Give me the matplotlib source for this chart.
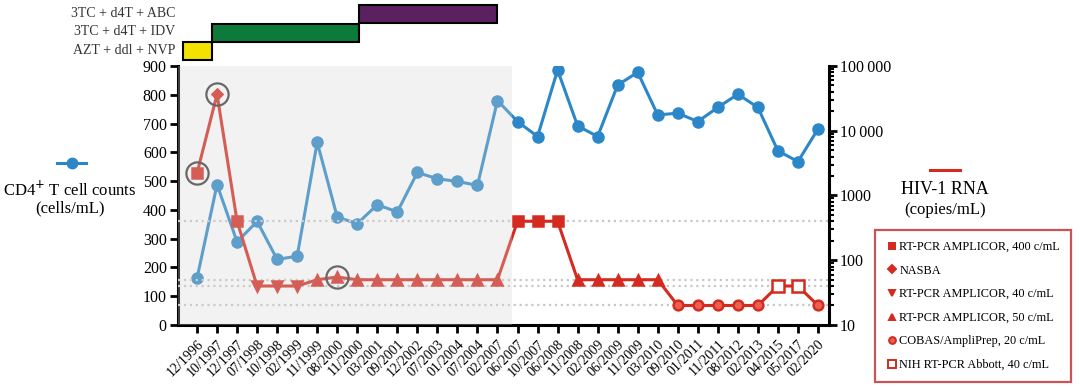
import numpy as np
import matplotlib.pyplot as plt
from matplotlib.patches import Rectangle
from matplotlib.lines import Line2D
from matplotlib.ticker import FixedLocator, FuncFormatter

plt.rcParams['font.family'] = ['Liberation Serif', 'DejaVu Serif']

# Dados
datas = ["12/1996", "10/1997", "12/1997", "07/1998", "10/1998", "02/1999", "11/1999",
         "08/2000", "11/2000", "03/2001", "09/2001", "12/2002", "07/2003", "01/2004",
         "07/2004", "02/2007", "06/2007", "10/2007", "06/2008", "11/2008", "02/2009",
         "06/2009", "11/2009", "03/2010", "09/2010", "01/2011", "11/2011", "08/2012",
         "02/2013", "04/2015", "05/2017", "02/2020"]
cd4 = [162, 488, 289, 360, 228, 239, 635, 375, 352, 418, 393, 530, 508, 499, 485, 780,
       707, 655, 886, 692, 655, 834, 878, 730, 736, 707, 756, 802, 756, 605, 568, 681]
rna = [2200, 36600, 400, 40, 40, 40, 50, 55, 50, 50, 50, 50, 50, 50, 50, 50,
       400, 400, 400, 50, 50, 50, 50, 50, 20, 20, 20, 20, 20, 40, 40, 20]
metodo = ["sq", "dm", "sq", "v40", "v40", "v40", "t50", "t50", "t50", "t50", "t50", "t50",
          "t50", "t50", "t50", "t50", "sq", "sq", "sq", "t50", "t50", "t50", "t50", "t50",
          "c20", "c20", "c20", "c20", "c20", "nih", "nih", "c20"]
circulados = [0, 1, 7]
limites = [400, 50, 40, 20]

esquemas = ["AZT + ddl + NVP", "3TC + d4T + IDV", "3TC + d4T + ABC"]
esq_inicio = [-0.7, 0.75, 8.09]
esq_fim = [0.75, 8.09, 14.98]
esq_cor = ["#f3e100", "#0b7a3a", "#5a2060"]

legenda = [("sq", "RT-PCR AMPLICOR, 400 c/mL"), ("dm", "NASBA"),
           ("v40", "RT-PCR AMPLICOR, 40 c/mL"), ("t50", "RT-PCR AMPLICOR, 50 c/mL"),
           ("c20", "COBAS/AmpliPrep, 20 c/mL"), ("nih", "NIH RT-PCR Abbott, 40 c/mL")]

azul = "#2b87c8"
vermelho = "#d42a1f"
estilo = {"sq": dict(marker="s", ms=6.5, mfc=vermelho),
          "dm": dict(marker="D", ms=5.5, mfc=vermelho),
          "v40": dict(marker="v", ms=7, mfc=vermelho),
          "t50": dict(marker="^", ms=7, mfc=vermelho),
          "c20": dict(marker="o", ms=7, mfc="#e8604f"),
          "nih": dict(marker="s", ms=8, mfc="white")}

x = np.arange(len(datas))

fig = plt.figure(figsize=(10.8, 3.88), dpi=100)
ax = fig.add_axes([0.1648, 0.1624, 0.6028, 0.6675])
ax2 = ax.twinx()

# CD4
ax.plot(x, cd4, color=azul, lw=2.2, marker="o", ms=8, zorder=3)
ax.set_ylim(0, 900)
ax.set_xlim(-0.95, 31.55)
ax.yaxis.set_major_locator(FixedLocator(np.arange(0, 901, 100)))

# RNA
ax2.set_yscale("log")
ax2.set_ylim(10, 100000)
for lim in limites:
    ax2.axhline(lim, color="#c8c8c8", ls=":", lw=1.6, zorder=1)
ax2.plot(x, rna, color=vermelho, lw=2.2, zorder=3)
for m in estilo:
    idx = [i for i in x if metodo[i] == m]
    ax2.plot(x[idx], np.array(rna)[idx], ls="none", mec=vermelho, mew=1.8, zorder=4, **estilo[m])
ax2.plot(x[circulados], np.array(rna)[circulados], ls="none", marker="o", ms=16,
         mfc="none", mec="#3a3a3a", mew=1.6, zorder=5)

# area sombreada
ax2.axvspan(-0.95, 15.73, color="#d4d4d4", alpha=0.3, lw=0, zorder=10)

ax2.yaxis.set_major_formatter(FuncFormatter(
    lambda v, p: {1e5: "100\u2009000", 1e4: "10\u2009000"}.get(v, "%d" % v)))

# eixos
ax.set_xticks(x)
ax.set_xticklabels(datas, rotation=45, ha="right", rotation_mode="anchor", fontsize=10)
for a in (ax, ax2):
    for s in a.spines.values():
        s.set_linewidth(2.2)
    a.spines["top"].set_visible(False)
ax.spines["right"].set_visible(False)
ax2.spines["left"].set_visible(False)
ax2.spines["bottom"].set_visible(False)
ax.tick_params(axis="both", direction="out", length=6, width=2, labelsize=11.5, pad=2)
ax.tick_params(axis="x", labelsize=10, pad=3)
ax2.tick_params(axis="y", which="major", direction="out", length=6, width=2, labelsize=11.5, pad=2)
ax2.tick_params(axis="y", which="minor", direction="out", length=3.5, width=1.5)

# esquemas terapeuticos
trans = ax.get_xaxis_transform()
alturas = [(1.023, 1.093), (1.093, 1.162), (1.165, 1.236)]
for i in range(3):
    ax.add_patch(Rectangle((esq_inicio[i], alturas[i][0]), esq_fim[i] - esq_inicio[i],
                           alturas[i][1] - alturas[i][0], transform=trans, clip_on=False,
                           facecolor=esq_cor[i], edgecolor="black", lw=1.5))
for txt, yy in zip(esquemas, [0.8686, 0.9188, 0.9652]):
    fig.text(0.162, yy, txt, ha="right", va="center", fontsize=10, color="#333333")

# rotulos laterais
fig.add_artist(Line2D([57 / 1080, 86 / 1080], [1 - 163 / 388] * 2, color=azul, lw=2.2))
fig.add_artist(Line2D([71.5 / 1080], [1 - 163 / 388], color=azul, marker="o", ms=7.5))
fig.text(70 / 1080, 1 - 190 / 388, "CD4$^{+}$ T cell counts", ha="center", va="center", fontsize=12)
fig.text(70 / 1080, 1 - 208 / 388, "(cells/mL)", ha="center", va="center", fontsize=12)

fig.add_artist(Line2D([930 / 1080, 960 / 1080], [1 - 170 / 388] * 2, color=vermelho, lw=2.2))
fig.text(945 / 1080, 1 - 189 / 388, "HIV-1 RNA", ha="center", va="center", fontsize=13)
fig.text(945 / 1080, 1 - 210 / 388, "(copies/mL)", ha="center", va="center", fontsize=12)

# legenda
handles = []
for k, _ in legenda:
    st = dict(estilo[k])
    st["ms"] = st["ms"] * 0.7
    handles.append(Line2D([], [], ls="none", mec=vermelho, mew=1.4, **st))
leg = ax2.legend(handles, [t for _, t in legenda], loc="upper left",
                 bbox_to_anchor=(875 / 1080, 1 - 230 / 388), bbox_transform=fig.transFigure,
                 fontsize=8.8, frameon=True, fancybox=False, labelspacing=0.95,
                 handletextpad=0.2, handlelength=0.9, borderpad=0.9, borderaxespad=0)
leg.get_frame().set_edgecolor("#c0282a")
leg.get_frame().set_linewidth(1.6)

plt.savefig("out.png", dpi=100)
